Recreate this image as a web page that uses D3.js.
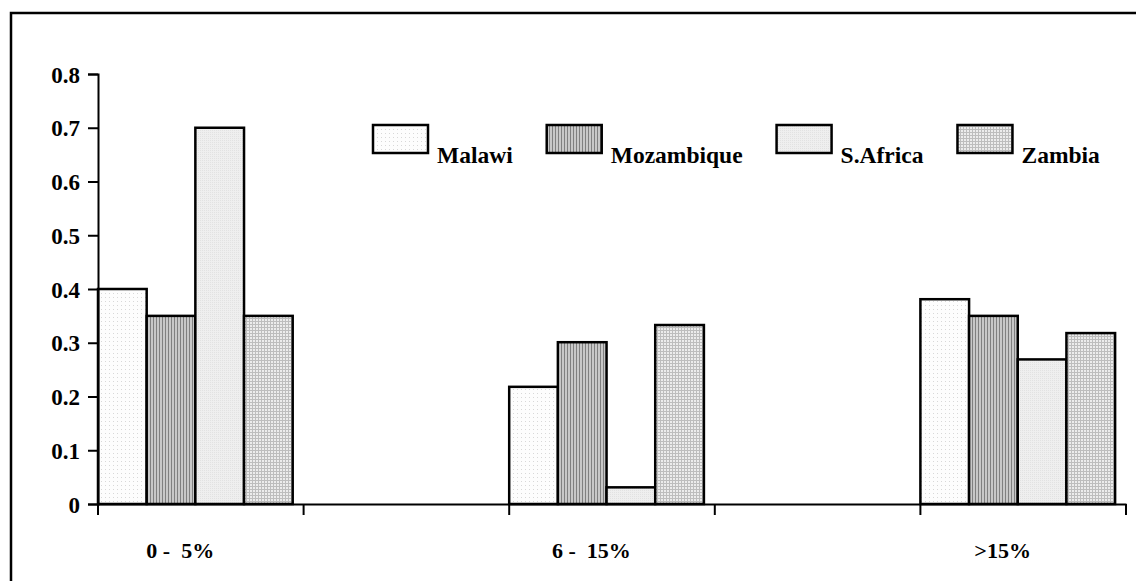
<!DOCTYPE html>
<html><head><meta charset="utf-8">
<script src="https://cdn.jsdelivr.net/npm/d3@7"></script>
<style>
html,body{margin:0;padding:0;background:#fff;}
svg{display:block;}
text{font-family:"Liberation Serif","Times New Roman",serif;font-weight:bold;fill:#000;}
</style></head>
<body>
<script>
const categories = ["0 -  5%", "", "6 -  15%", "", ">15%"];
const seriesNames = ["Malawi", "Mozambique", "S.Africa", "Zambia"];
const malawi     = [0.40, null, 0.218, null, 0.381];
const mozambique = [0.35, null, 0.301, null, 0.350];
const safrica    = [0.70, null, 0.031, null, 0.269];
const zambia     = [0.35, null, 0.333, null, 0.318];
const yTicks = [0, 0.1, 0.2, 0.3, 0.4, 0.5, 0.6, 0.7, 0.8];

const seriesValues = [malawi, mozambique, safrica, zambia];
const W = 1144, H = 581;
const svg = d3.select("body").append("svg").attr("width", W).attr("height", H);
const defs = svg.append("defs");

function pat(id, size, bg, draw) {
  const p = defs.append("pattern").attr("id", id).attr("patternUnits", "userSpaceOnUse")
    .attr("width", size).attr("height", size);
  p.append("rect").attr("width", size).attr("height", size).attr("fill", bg);
  draw(p);
}
pat("pMalawi", 4, "#fdfdfd", p => p.append("rect").attr("x", 1).attr("y", 1).attr("width", 1).attr("height", 1).attr("fill", "#d8d8d8"));
pat("pMoz", 3, "#c8c8c8", p => p.append("rect").attr("x", 0).attr("y", 0).attr("width", 1).attr("height", 3).attr("fill", "#808080"));
pat("pSA", 2, "#efefef", p => p.append("rect").attr("x", 0).attr("y", 0).attr("width", 1).attr("height", 1).attr("fill", "#e2e2e2"));
pat("pZam", 3, "#ececec", p => {
  p.append("rect").attr("x", 0).attr("y", 0).attr("width", 3).attr("height", 1).attr("fill", "#bdbdbd");
  p.append("rect").attr("x", 0).attr("y", 0).attr("width", 1).attr("height", 3).attr("fill", "#bdbdbd");
});
const fills = ["url(#pMalawi)", "url(#pMoz)", "url(#pSA)", "url(#pZam)"];

svg.append("path").attr("d", "M11,581 V13 H1136").attr("fill", "none").attr("stroke", "#000").attr("stroke-width", 2.5);

const x0 = 98, x1 = 1126, yBase = 504, yTop = 74;
const x = d3.scaleBand().domain(d3.range(categories.length)).range([x0, x1]).padding(0);
const xs = d3.scaleBand().domain(d3.range(seriesNames.length)).range([0, x.bandwidth() * 0.947]).padding(0);
const y = d3.scaleLinear().domain([0, 0.8]).range([yBase, yTop]);

seriesValues.forEach((vals, si) => {
  svg.append("g").selectAll("rect").data(vals.map((v, i) => ({v, i})).filter(d => d.v != null))
    .join("rect")
    .attr("x", d => x(d.i) + xs(si))
    .attr("y", d => y(d.v))
    .attr("width", xs.bandwidth())
    .attr("height", d => yBase - y(d.v))
    .attr("fill", fills[si])
    .attr("stroke", "#000").attr("stroke-width", 2.5);
});

const yAxis = svg.append("g").attr("transform", `translate(${x0},0)`)
  .call(d3.axisLeft(y).tickValues(yTicks).tickFormat(d => d === 0 ? "0" : d3.format(".1f")(d)).tickSize(10).tickPadding(8));
yAxis.select(".domain").attr("stroke-width", 2);
yAxis.selectAll(".tick line").attr("stroke-width", 2);
yAxis.selectAll("text").attr("font-size", 23).attr("font-family", null).attr("dy", "0.35em");

const xAxis = svg.append("g").attr("transform", `translate(0,${yBase})`)
  .call(d3.axisBottom(x).tickValues([]).tickSizeOuter(0));
xAxis.select(".domain").attr("stroke-width", 2);
const tickPos = d3.range(categories.length + 1).map(i => i < categories.length ? x(i) : x1);
xAxis.selectAll("line.tk").data(tickPos).join("line").attr("class", "tk")
  .attr("x1", d => d).attr("x2", d => d).attr("y1", 0).attr("y2", 11)
  .attr("stroke", "#000").attr("stroke-width", 2);
svg.append("g").selectAll("text").data(categories.map((c, i) => ({c, i})).filter(d => d.c))
  .join("text")
  .attr("x", d => x(d.i) + x.bandwidth() * 0.4)
  .attr("y", 558)
  .attr("text-anchor", "middle")
  .attr("font-size", 22)
  .style("white-space", "pre")
  .text(d => d.c);

const lg = svg.append("g");
let lx = 373;
seriesNames.forEach((name, si) => {
  lg.append("rect").attr("x", lx).attr("y", 125).attr("width", 55).attr("height", 28)
    .attr("fill", fills[si]).attr("stroke", "#000").attr("stroke-width", 2.5);
  const t = lg.append("text").attr("x", lx + 64).attr("y", 163).attr("font-size", 23.5).text(name);
  lx += 64 + t.node().getComputedTextLength() + 34;
});
</script>
</body></html>
